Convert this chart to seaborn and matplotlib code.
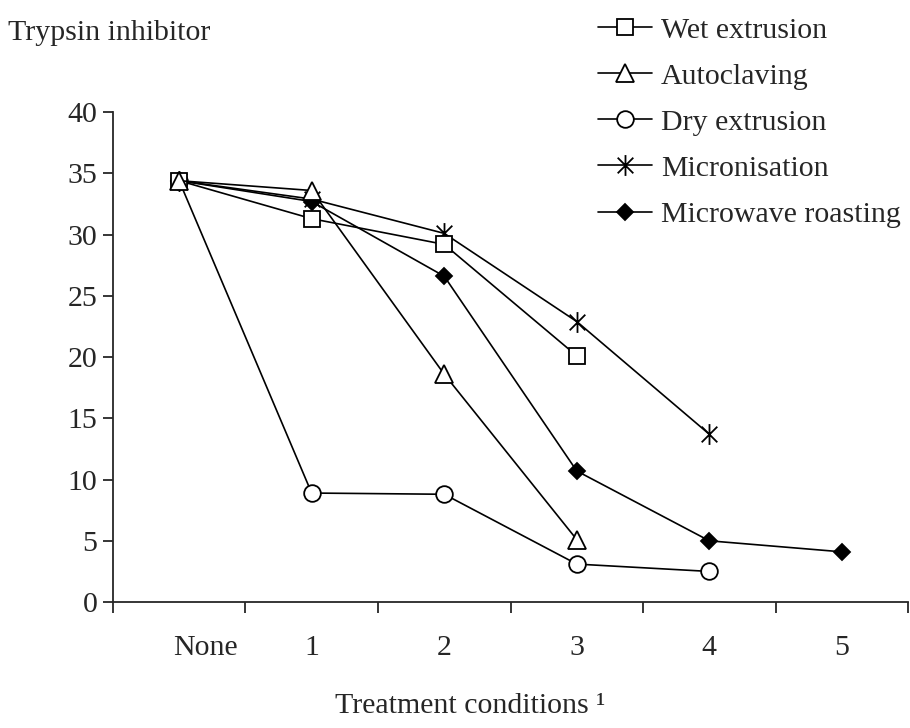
"""Trypsin inhibitor vs treatment conditions
"""
import matplotlib
matplotlib.use("Agg")
import matplotlib.pyplot as plt
import matplotlib.transforms as mtransforms
from matplotlib.path import Path
import pandas as pd
import seaborn as sns

# Data
categories = ["None", "1", "2", "3", "4", "5"]
series_names = ["Wet extrusion", "Autoclaving", "Dry extrusion",
                "Micronisation", "Microwave roasting"]
wet_extrusion = [34.4, 31.3, 29.2, 20.1]
autoclaving = [34.4, 33.6, 18.6, 5.1]
dry_extrusion = [34.4, 8.9, 8.8, 3.1, 2.5]
micronisation = [34.4, 32.9, 30.1, 22.9, 13.7]
microwave_roasting = [34.4, 32.7, 26.6, 10.7, 5.0, 4.1]
y_ticks = [0, 5, 10, 15, 20, 25, 30, 35, 40]

values = [wet_extrusion, autoclaving, dry_extrusion, micronisation, microwave_roasting]

# Excel-like star: an X with a vertical stroke
star = Path([(0, -1), (0, 1), (-0.75, -0.75), (0.75, 0.75), (-0.75, 0.75), (0.75, -0.75)],
            [Path.MOVETO, Path.LINETO, Path.MOVETO, Path.LINETO, Path.MOVETO, Path.LINETO])

# marker style per series
styles = {
    "Wet extrusion": dict(marker="s", markersize=12, markerfacecolor="white"),
    "Autoclaving": dict(marker="^", markersize=13, markerfacecolor="white"),
    "Dry extrusion": dict(marker="o", markersize=12, markerfacecolor="white"),
    "Micronisation": dict(marker=star, markersize=15, markerfacecolor="none"),
    "Microwave roasting": dict(marker="D", markersize=8, markerfacecolor="black"),
}
# drawing order, so the open square and triangle sit on top at "None"
draw_order = ["Microwave roasting", "Micronisation", "Dry extrusion",
              "Wet extrusion", "Autoclaving"]

rows = []
for name, vals in zip(series_names, values):
    for i, v in enumerate(vals):
        rows.append({"series": name, "pos": i, "value": v})
df = pd.DataFrame(rows)

sns.set_style("ticks")
plt.rcParams["font.family"] = ["Liberation Serif", "DejaVu Serif"]
FS = 21.5

fig = plt.figure(figsize=(9.1, 7.28), dpi=100)
ax = fig.add_axes([0.124, 0.173, 0.874, 0.673])

for name in draw_order:
    sub = df[df["series"] == name]
    sns.lineplot(data=sub, x="pos", y="value", ax=ax, color="black",
                 linewidth=1.2, markeredgecolor="black", markeredgewidth=1.3,
                 label=name, **styles[name])

ax.set_xlim(-0.5, 5.5)
ax.set_ylim(0, 40)
ax.set_yticks(y_ticks)
ax.set_yticklabels([str(t) for t in y_ticks], fontsize=FS)

# category labels at centres, tick marks at boundaries
ax.set_xticks(range(len(categories)))
ax.set_xticklabels(categories, fontsize=FS)
ax.set_xticks([i - 0.5 for i in range(len(categories) + 1)], minor=True)
ax.tick_params(axis="x", which="major", length=0, pad=24)
ax.tick_params(axis="x", which="minor", length=8, width=1.3, direction="out")
ax.tick_params(axis="y", length=7, width=1.3, direction="out", pad=4)

# the "None" label sits a little right of its category centre
shift = mtransforms.ScaledTranslation(26 / 100, 0, fig.dpi_scale_trans)
lbl = ax.get_xticklabels()[0]
lbl.set_transform(lbl.get_transform() + shift)

for side in ["top", "right"]:
    ax.spines[side].set_visible(False)
ax.spines["left"].set_linewidth(1.3)
ax.spines["bottom"].set_linewidth(1.3)

ax.set_xlabel("")
ax.set_ylabel("")
fig.text(470 / 910, 1 - 706 / 728, "Treatment conditions \u00b9", fontsize=FS,
         ha="center", va="center")
fig.text(8 / 910, 1 - 33 / 728, "Trypsin inhibitor", fontsize=FS,
         ha="left", va="center")

handles, labels = ax.get_legend_handles_labels()
lookup = dict(zip(labels, handles))
ax.legend([lookup[n] for n in series_names], series_names,
          loc="upper left", bbox_to_anchor=(598 / 910, 1 - 17 / 728),
          bbox_transform=fig.transFigure, frameon=False, fontsize=FS,
          handlelength=1.8, handletextpad=0.3, labelspacing=0.64,
          borderpad=0, borderaxespad=0)

fig.savefig("out.png", dpi=100)
